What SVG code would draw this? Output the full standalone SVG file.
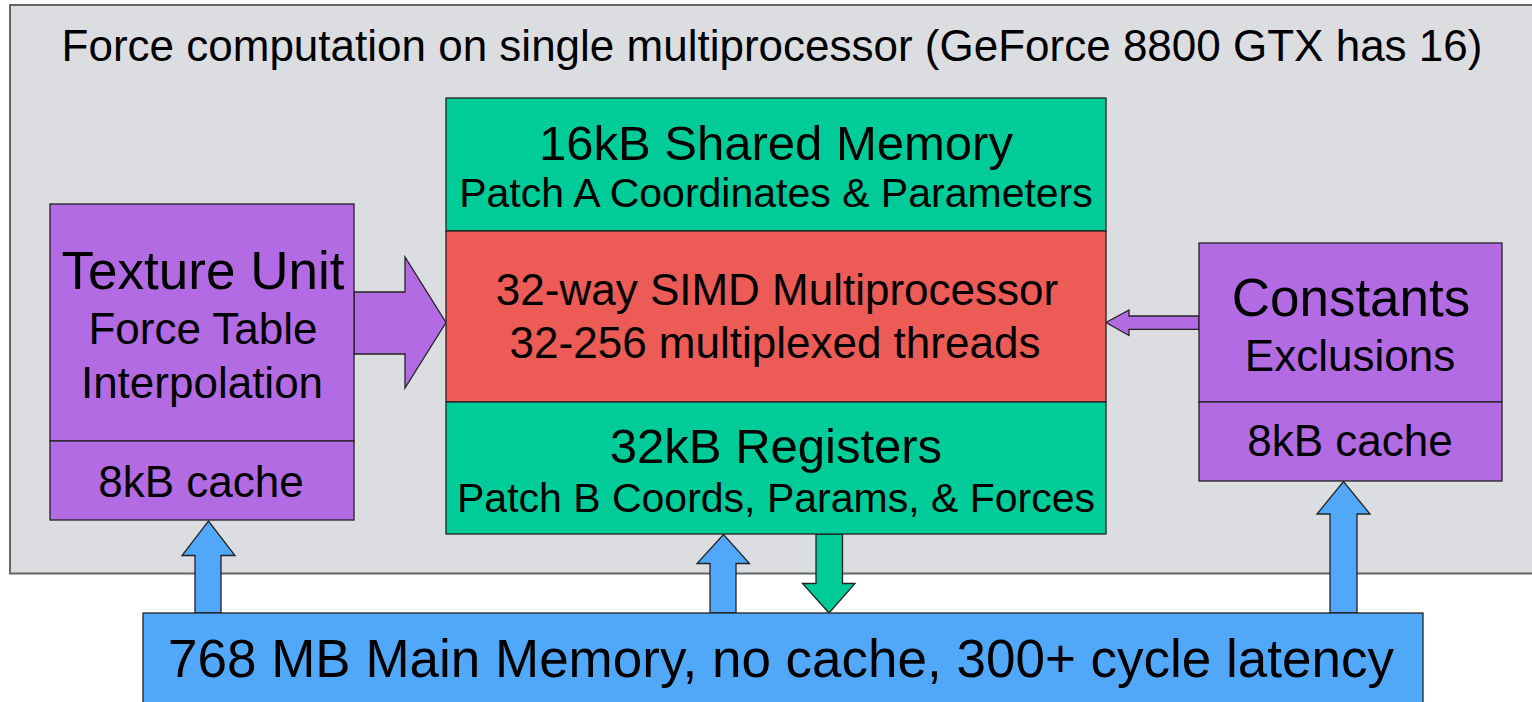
<svg xmlns="http://www.w3.org/2000/svg" width="1532" height="702" viewBox="0 0 1532 702">
  <style>
    text { font-family: "Liberation Sans", Arial, sans-serif; fill: #000; text-anchor: middle; }
    .huge { font-size: 53px; }
    .big { font-size: 49px; }
    .mid { font-size: 44px; }
    .sub { font-size: 41px; }
    .box { stroke: #222; stroke-width: 1.3; }
    .purple { fill: #b36be3; }
    .green { fill: #00cc99; }
    .red { fill: #ec5b56; }
    .blue { fill: #52a8f8; }
  </style>

  <!-- multiprocessor enclosure -->
  <g id="multiprocessor">
    <rect x="10" y="5" width="1540" height="568.5" fill="#dcdde0" stroke="#666" stroke-width="2"/>
    <text x="772" y="61" class="mid">Force computation on single multiprocessor (GeForce 8800 GTX has 16)</text>
  </g>

  <!-- connectors -->
  <g id="connectors" class="box">
    <!-- texture unit to SIMD -->
    <polygon class="purple" points="354,292 405,292 405,257 446,322.5 405,388 405,354 354,354"/>
    <!-- constants to SIMD -->
    <polygon class="purple" points="1199,316 1129,316 1129,310 1106,322.5 1129,335.5 1129,329.3 1199,329.3"/>
    <!-- main memory up to texture cache -->
    <polygon class="blue" points="195,613 195,555.5 182,555.5 208.5,521 235,555.5 221,555.5 221,613"/>
    <!-- main memory up to registers -->
    <polygon class="blue" points="710,613 710,563.5 697,563.5 723.5,534.5 749.5,563.5 736,563.5 736,613"/>
    <!-- registers down to main memory -->
    <polygon class="green" points="816,534 842.5,534 842.5,583.5 855,583.5 829,613 802.5,583.5 816,583.5"/>
    <!-- main memory up to constants cache -->
    <polygon class="blue" points="1330,613 1330,514 1317,514 1343.5,481.5 1370,514 1357,514 1357,613"/>
  </g>

  <!-- texture unit -->
  <g id="texture-unit">
    <rect class="purple box" x="50" y="204" width="304" height="237"/>
    <rect class="purple box" x="50" y="441" width="304" height="79"/>
    <text x="203" y="289" class="huge">Texture Unit</text>
    <text x="203" y="344" class="mid">Force Table</text>
    <text x="202" y="398" class="mid">Interpolation</text>
    <text x="201" y="497" class="mid">8kB cache</text>
  </g>

  <!-- shared memory -->
  <g id="shared-memory">
    <rect class="green box" x="446" y="98" width="660" height="133"/>
    <text x="776" y="160" class="big">16kB Shared Memory</text>
    <text x="776" y="207" class="sub">Patch A Coordinates &amp; Parameters</text>
  </g>

  <!-- SIMD core -->
  <g id="simd">
    <rect class="red box" x="446" y="231" width="660" height="171"/>
    <text x="777" y="305" class="mid">32-way SIMD Multiprocessor</text>
    <text x="775" y="358" class="mid">32-256 multiplexed threads</text>
  </g>

  <!-- registers -->
  <g id="registers">
    <rect class="green box" x="446" y="402" width="660" height="132"/>
    <text x="776" y="463" class="big">32kB Registers</text>
    <text x="776" y="512" class="sub">Patch B Coords, Params, &amp; Forces</text>
  </g>

  <!-- constants -->
  <g id="constants">
    <rect class="purple box" x="1199" y="243" width="303" height="159"/>
    <rect class="purple box" x="1199" y="402" width="303" height="79"/>
    <text x="1351" y="316" class="huge">Constants</text>
    <text x="1350" y="371" class="mid">Exclusions</text>
    <text x="1350" y="456" class="mid">8kB cache</text>
  </g>

  <!-- main memory -->
  <g id="main-memory">
    <rect class="blue box" x="143" y="613" width="1280" height="100"/>
    <text x="781" y="677" class="huge">768 MB Main Memory, no cache, 300+ cycle latency</text>
  </g>
</svg>
